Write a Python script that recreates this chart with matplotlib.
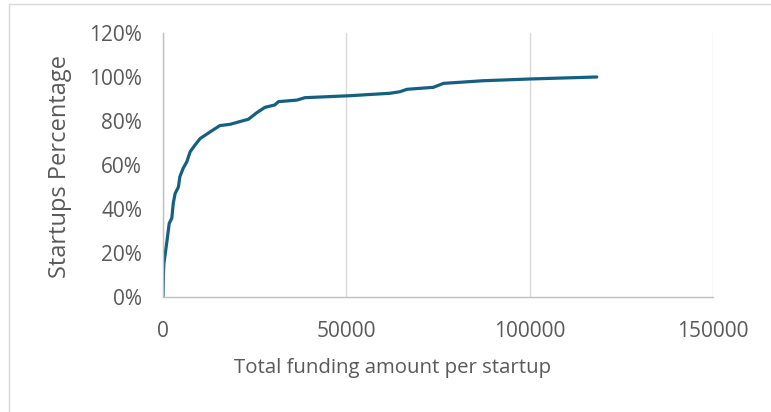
import matplotlib
matplotlib.use("Agg")
import matplotlib.pyplot as plt
from matplotlib.ticker import PercentFormatter
from matplotlib.lines import Line2D

# cumulative share of startups vs total funding
funding = [0, 100, 250, 1000, 1700, 2400, 2800, 3300, 4200, 4600, 5500, 6500, 7400,
           8700, 10100, 12800, 15500, 18300, 23300, 25600, 27800, 30500, 31500,
           36500, 38700, 51000, 61900, 64600, 66500, 73700, 76500, 87300, 100100, 118300]
pct = [0, 10, 15.3, 24.4, 33.5, 35.8, 42.6, 47, 50, 54.7, 58.5, 61.5, 66,
       69, 72, 75, 77.9, 78.5, 80.8, 83.8, 86.2, 87.3, 88.8,
       89.5, 90.6, 91.5, 92.6, 93.3, 94.4, 95.3, 97.1, 98.3, 99.1, 100]

x_ticks = [0, 50000, 100000, 150000]
y_ticks = [0, 20, 40, 60, 80, 100, 120]

plt.rcParams['font.family'] = ['Open Sans', 'DejaVu Sans']
grey = '#595959'

fig = plt.figure(figsize=(7.71, 4.12), dpi=100)
ax = fig.add_axes([163/771, 1 - 297/412, 550/771, 264/412])

ax.plot(funding, pct, color='#156082', lw=2.3, solid_capstyle='round', solid_joinstyle='round')

ax.set_xlim(0, 150000)
ax.set_ylim(0, 120)
ax.set_xticks(x_ticks)
ax.set_yticks(y_ticks)
ax.yaxis.set_major_formatter(PercentFormatter(100, decimals=0))
ax.tick_params(length=0, labelsize=15, colors=grey)
ax.tick_params(axis='x', pad=17)
ax.tick_params(axis='y', pad=15)

ax.grid(axis='x', color='#d9d9d9', lw=1)
ax.set_axisbelow(True)
for s in ['top', 'right']:
    ax.spines[s].set_visible(False)
for s in ['left', 'bottom']:
    ax.spines[s].set_color('#bfbfbf')
    ax.spines[s].set_linewidth(1)

fig.text(392.5/771, 1 - 368/412, 'Total funding amount per startup',
         ha='center', va='center', fontsize=14.7, color=grey)
fig.text(60.5/771, 1 - 166/412, 'Startups Percentage', rotation=90,
         ha='center', va='center', fontsize=17, color=grey)

# outer chart border (only top and left visible in the crop)
fig.add_artist(Line2D([9/771, 9/771], [0, 1 - 4/412], transform=fig.transFigure, color='#d9d9d9', lw=1))
fig.add_artist(Line2D([9/771, 1], [1 - 4/412, 1 - 4/412], transform=fig.transFigure, color='#d9d9d9', lw=1))

fig.savefig('out.png', dpi=100)
